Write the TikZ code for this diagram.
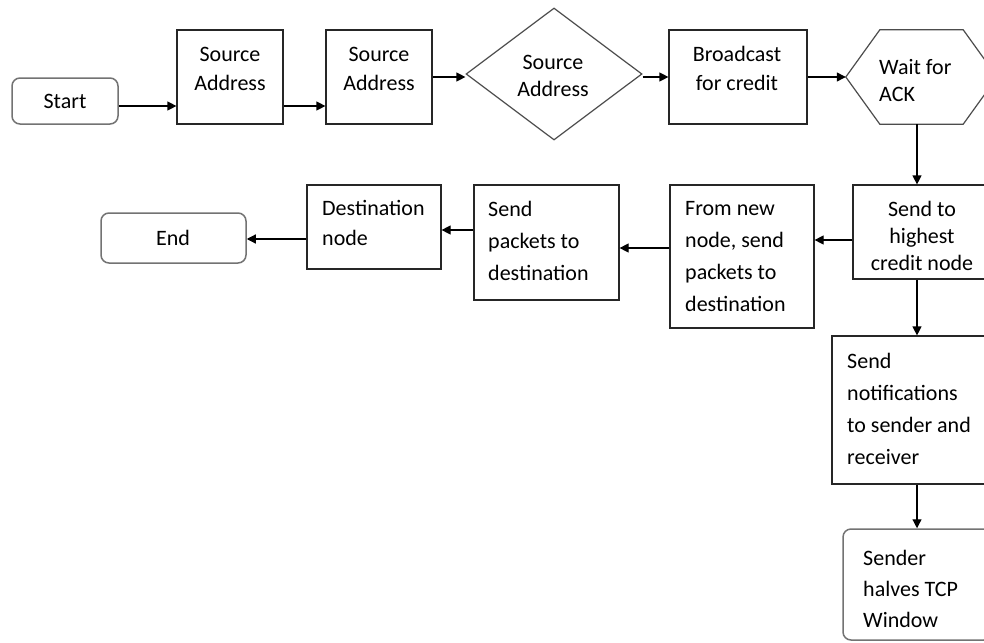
\documentclass[tikz,border=0pt]{standalone}
\usepackage{fontspec}
\setmainfont{Carlito}
\usetikzlibrary{arrows.meta,shapes.geometric}
\begin{document}
\begin{tikzpicture}[x=1pt,y=-1pt,
  box/.style={draw=black!85, line width=1.2pt, inner sep=0pt},
  rbox/.style={draw=black!55, line width=1.5pt, rounded corners=8pt, inner sep=0pt},
  shapeline/.style={draw=black!70, line width=1.2pt},
  txt/.style={inner sep=0pt, font=\fontsize{22pt}{#1}\selectfont},
  txt/.default=31pt,
  arr/.style={line width=1.2pt, -{Triangle[length=9pt,width=9pt]}}]
\useasboundingbox (0,0) rectangle (984,642);
\fill[white] (0,0) rectangle (984,642);
\clip (0,0) rectangle (984,642);

% top row
\node[rbox, minimum width=106pt, minimum height=46pt] (start) at (65,101) {};
\node[box, minimum width=106pt, minimum height=94pt] (b1) at (230,77) {};
\node[box, minimum width=106pt, minimum height=94pt] (b2) at (379,77) {};
\node[shapeline, diamond, minimum width=176pt, minimum height=132pt, inner sep=0pt] (dia) at (554,74) {};
\node[box, minimum width=138pt, minimum height=94pt] (broad) at (738,77) {};
\node[minimum width=151pt, minimum height=94pt, inner sep=0pt] (hex) at (921.5,77) {};
\draw[shapeline] (hex.west) -- ([xshift=34pt]hex.north west) -- ([xshift=-34pt]hex.north east)
  -- (hex.east) -- ([xshift=-34pt]hex.south east) -- ([xshift=34pt]hex.south west) -- cycle;

% middle row
\node[box, minimum width=138pt, minimum height=94pt] (sendto) at (922,232) {};
\node[box, minimum width=144pt, minimum height=143pt] (fromnew) at (742,256.5) {};
\node[box, minimum width=145pt, minimum height=115pt] (sendpk) at (546.5,242.5) {};
\node[box, minimum width=134pt, minimum height=84pt] (dest) at (374,227) {};
\node[rbox, minimum width=145pt, minimum height=50pt] (end) at (173.5,238) {};

% right column
\node[box, minimum width=163pt, minimum height=148pt] (notif) at (913.5,410) {};
\node[rbox, minimum width=149pt, minimum height=111pt] (sender) at (917.5,584.5) {};

% texts
\node[txt] (tstart) at (65,101) {Start};
\node[txt=29pt, align=center] (tb1) at (230,68.5) {Source\\Address};
\node[txt=29pt, align=center] (tb2) at (379,68.5) {Source\\Address};
\node[txt=27pt, align=center] (tdia) at (553,75.5) {Source\\Address};
\node[txt=29pt, align=center] (tbroad) at (737,68.5) {Broadcast\\for credit};
\node[txt=27pt, align=left, anchor=west] (thex) at (879,80.5) {Wait for\\ACK};
\node[txt=27pt, align=center] (tsendto) at (922,236) {Send to\\highest\\credit node};
\node[txt=32pt, align=left, anchor=west] (tfromnew) at (685,257) {From new\\node, send\\packets to\\destination};
\node[txt=32pt, align=left, anchor=west] (tsendpk) at (488,241) {Send\\packets to\\destination};
\node[txt=30pt, align=left, anchor=west] (tdest) at (322,223) {Destination\\node};
\node[txt] (tend) at (173,238) {End};
\node[txt=32pt, align=left, anchor=west] (tnotif) at (847,408.5) {Send\\notifications\\to sender and\\receiver};
\node[txt=31pt, align=left, anchor=west] (tsender) at (863,588.5) {Sender\\halves TCP\\Window};

% connectors
\coordinate (col) at (917,0);
\draw[arr] ([yshift=-5pt]start.east) -- ([yshift=-5pt]start.east -| b1.west);
\draw[arr] ([yshift=-29pt]b1.east) -- ([yshift=-29pt]b1.east -| b2.west);
\draw[arr] (b2.east) -- (b2.east -| dia.west);
\draw[arr] (broad.west -| dia.east) -- (broad.west);
\draw[arr] (broad.east) -- (hex.west);
\draw[arr] (hex.south -| col) -- (sendto.north -| col);
\draw[arr] ([yshift=-8pt]sendto.west) -- ([yshift=-8pt]sendto.west -| fromnew.east);
\draw[arr] ([yshift=-5.5pt]sendpk.east -| fromnew.west) -- ([yshift=-5.5pt]sendpk.east);
\draw[arr] ([yshift=-3pt]dest.east -| sendpk.west) -- ([yshift=-3pt]dest.east);
\draw[arr] ([yshift=-1pt]end.east -| dest.west) -- ([yshift=-1pt]end.east);
\draw[arr] (sendto.south -| col) -- (notif.north -| col);
\draw[arr] (notif.south -| col) -- (sender.north -| col);
\end{tikzpicture}
\end{document}
